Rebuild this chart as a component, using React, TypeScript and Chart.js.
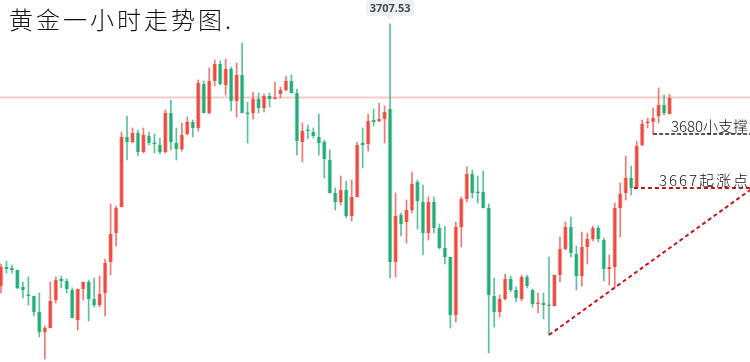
import { useEffect, useRef } from "react";
import { Chart, registerables } from "chart.js";

Chart.register(...registerables);

// 1-hour gold candles (price units)
const opens = [
  3642, 3646.75, 3646.5, 3646, 3641.75, 3639.75, 3639.5, 3635.5, 3630.5, 3631.5,
  3638.5, 3643.75, 3643.25, 3641, 3633.5, 3641.25, 3643, 3638.75, 3637.25, 3640.25,
  3648, 3655.25, 3661.75, 3679.25, 3678, 3680.25, 3675.5, 3679.5, 3677.75, 3677.25,
  3675.5, 3685.25, 3677.75, 3676.25, 3680, 3683, 3681.5, 3692.5, 3685.25, 3693.25,
  3697.5, 3692.25, 3696.25, 3688.25, 3694.75, 3685.25, 3685.25, 3688.75, 3686.5, 3689.5,
  3688.75, 3690, 3691, 3693.25, 3690.25, 3678, 3681, 3680.5, 3679.25, 3678,
  3673.5, 3665.25, 3663, 3666, 3659.5, 3664.25, 3677.75, 3677.5, 3683.5, 3683.25,
  3683.75, 3686.25, 3648, 3659.75, 3658, 3661, 3668, 3663, 3655.25, 3663,
  3656.5, 3651.5, 3649.25, 3634.75, 3656.75, 3663.75, 3670, 3665.5, 3665.5, 3661.5,
  3639.5, 3635.5, 3638.75, 3643.75, 3641, 3638.75, 3644.25, 3641, 3637.5, 3637.75,
  3637.25, 3637, 3644.75, 3651.25, 3656.75, 3650, 3644.5, 3651.75, 3653.75, 3656.5,
  3653.5, 3646.25, 3646.75, 3661.5, 3665.25, 3669, 3666.75, 3677.25, 3682.75, 3683,
  3684.5, 3687.25, 3685,
];
const highs = [
  3647.5, 3648.25, 3647.25, 3646, 3643, 3644.25, 3639.5, 3640.25, 3632, 3643,
  3644.25, 3644.5, 3643.75, 3641.5, 3641.25, 3643, 3643.5, 3644, 3644.5, 3648.75,
  3662.5, 3662, 3680.5, 3684.5, 3681.5, 3681, 3681.5, 3680.5, 3680, 3679,
  3686, 3688.5, 3681.5, 3682.75, 3684.25, 3683.5, 3693.5, 3693.25, 3696.5, 3698.5,
  3698.25, 3698.75, 3696.75, 3697.75, 3702.75, 3688, 3690.5, 3690.25, 3690, 3690.25,
  3693, 3691.75, 3694.5, 3694.75, 3691.25, 3682.75, 3682.25, 3681.5, 3685, 3678.5,
  3676, 3666.5, 3669.5, 3668.25, 3668.5, 3678, 3681.5, 3685, 3686.25, 3687.75,
  3687, 3707.53, 3665.25, 3660.25, 3663.5, 3670.5, 3668.5, 3667.25, 3664.25, 3664.25,
  3657.5, 3657, 3649.25, 3658, 3664.25, 3671.75, 3671, 3669.5, 3670.75, 3662.5,
  3644, 3639.75, 3645, 3644.5, 3641.75, 3644.75, 3644.75, 3641.25, 3640.25, 3640.25,
  3649.25, 3644.75, 3654.25, 3658, 3659.25, 3652, 3655.5, 3655.25, 3657, 3657,
  3654, 3649.75, 3662.75, 3667.75, 3674.5, 3672, 3678.25, 3683.5, 3684, 3686.5,
  3691.5, 3689.75, 3690,
];
const lows = [
  3640.25, 3645.25, 3645.25, 3641.25, 3639, 3637.25, 3634.5, 3629.25, 3623.75, 3631.5,
  3637.75, 3641.5, 3640.25, 3634, 3631, 3638.5, 3633.25, 3636.75, 3636.75, 3634.5,
  3644.75, 3652, 3661.75, 3673.5, 3677.75, 3674.5, 3675.25, 3677.25, 3675.25, 3675,
  3675.25, 3676, 3673.5, 3675.75, 3679.75, 3679.25, 3680.75, 3685.25, 3685, 3692,
  3692.25, 3689.75, 3685.75, 3684.25, 3685.25, 3677.75, 3683.75, 3685.25, 3685.5, 3686.75,
  3688.75, 3689, 3690.75, 3690.25, 3674.75, 3673, 3678.75, 3679, 3674.75, 3669,
  3665.25, 3661, 3662.25, 3659, 3658.25, 3664.25, 3671.5, 3675.75, 3682, 3683,
  3677.75, 3644, 3644.25, 3654.5, 3652.75, 3660.25, 3656.25, 3649.75, 3653.5, 3655.25,
  3651.25, 3647.5, 3631.5, 3633, 3651.75, 3663, 3664, 3662.75, 3661.5, 3625.25,
  3631.75, 3634.25, 3638.5, 3640.5, 3638, 3638.25, 3641.5, 3636.75, 3635.25, 3633.75,
  3629.75, 3637, 3643, 3651, 3649.25, 3641, 3642, 3647.5, 3653.25, 3653,
  3643.25, 3642.25, 3641.5, 3654.25, 3663.5, 3664.75, 3666.5, 3677, 3681.5, 3680,
  3682.75, 3684.75, 3685,
];
const closes = [
  3646.75, 3646.25, 3646, 3641.5, 3641, 3639.5, 3635.5, 3630.5, 3631.5, 3638.25,
  3643.5, 3643.25, 3641.25, 3634, 3641.25, 3643, 3638.75, 3637.25, 3640, 3647.75,
  3655, 3661.5, 3679.25, 3678, 3680.25, 3675.5, 3679.75, 3677.75, 3677.5, 3675.5,
  3685.25, 3678, 3676.25, 3679.75, 3683, 3681.5, 3692.75, 3685.25, 3693.25, 3697.5,
  3692.5, 3696.25, 3688.25, 3694.75, 3685.25, 3685, 3688.75, 3686.5, 3689.5, 3688.75,
  3689, 3691, 3693.25, 3690.25, 3678.25, 3680.75, 3680.75, 3679.5, 3677.75, 3673.75,
  3665.25, 3663, 3666, 3659.5, 3664.25, 3677.25, 3677.25, 3683.25, 3683, 3683.75,
  3685.5, 3648, 3659.5, 3657.5, 3661, 3667.5, 3663.25, 3655.25, 3663, 3656.5,
  3651.5, 3649.25, 3634.75, 3656.75, 3663.75, 3670, 3665.25, 3665.25, 3661.5, 3639.75,
  3635.5, 3638.75, 3643.75, 3641, 3639, 3644.25, 3642, 3637.5, 3637.75, 3637.25,
  3637, 3644.75, 3651.25, 3656.75, 3650.25, 3644.5, 3651.75, 3653.75, 3656.5, 3653.75,
  3646.25, 3646.75, 3661.5, 3665, 3669, 3666.5, 3677, 3682.5, 3683, 3684,
  3687.25, 3685.25, 3689,
];

const titleText = "黄金一小时走势图.";
const peakIndex = 71;
const peakLabel = "3707.53";
const currentPrice = 3689.1;
const supportValue = 3680;
const supportStart = 119;
const supportText = "3680小支撑";
const riseValue = 3666.5;
const riseStart = 115.5;
const riseText = "3667起涨点";
const trendStart = { x: 100, y: 3629.75 };
const trendEnd = { x: 136.7, y: 3666 };

const UP = "#ee4a40";
const UP_LIGHT = "rgba(238,74,64,0.45)";
const DOWN = "#22ad78";
const DOWN_LIGHT = "rgba(34,173,120,0.45)";

const overlayPlugin = {
  id: "overlay",
  beforeDatasetsDraw(chart: any) {
    const { ctx, chartArea, scales } = chart;
    const y = scales.y.getPixelForValue(currentPrice);
    ctx.save();
    ctx.strokeStyle = "rgba(240,160,160,0.55)";
    ctx.lineWidth = 2;
    ctx.beginPath();
    ctx.moveTo(chartArea.left, y);
    ctx.lineTo(chartArea.right, y);
    ctx.stroke();
    ctx.restore();
  },
  afterDatasetsDraw(chart: any) {
    const { ctx, chartArea, scales } = chart;
    const xs = scales.x;
    const ys = scales.y;
    ctx.save();

    // title
    ctx.fillStyle = "#111";
    ctx.font = '300 24px "Noto Sans CJK SC", serif';
    ctx.textBaseline = "alphabetic";
    ctx.textAlign = "left";
    (ctx as any).letterSpacing = "3px";
    ctx.fillText(titleText, 9, 29);
    (ctx as any).letterSpacing = "0px";

    // peak label
    const px = xs.getPixelForValue(peakIndex);
    const bw = 48, bh = 16;
    ctx.fillStyle = "#edeff2";
    ctx.beginPath();
    (ctx as any).roundRect(px - bw / 2, 0, bw, bh, 3);
    ctx.fill();
    ctx.beginPath();
    ctx.moveTo(px - 4, bh);
    ctx.lineTo(px + 4, bh);
    ctx.lineTo(px, bh + 4);
    ctx.closePath();
    ctx.fill();
    ctx.fillStyle = "#454a52";
    ctx.font = 'bold 11px "Open Sans", Arial, sans-serif';
    ctx.textAlign = "center";
    ctx.textBaseline = "middle";
    ctx.fillText(peakLabel, px, 8.5);

    // support line
    const sy = ys.getPixelForValue(supportValue);
    ctx.setLineDash([4, 2]);
    ctx.lineWidth = 1.5;
    ctx.strokeStyle = "#222";
    ctx.beginPath();
    ctx.moveTo(xs.getPixelForValue(supportStart), sy);
    ctx.lineTo(chartArea.right, sy);
    ctx.stroke();

    // rise line
    const ry = ys.getPixelForValue(riseValue);
    ctx.strokeStyle = "#c8141b";
    ctx.lineWidth = 2;
    ctx.setLineDash([4, 3]);
    ctx.beginPath();
    ctx.moveTo(xs.getPixelForValue(riseStart), ry);
    ctx.lineTo(chartArea.right, ry);
    ctx.stroke();

    // trend line
    ctx.beginPath();
    ctx.moveTo(xs.getPixelForValue(trendStart.x), ys.getPixelForValue(trendStart.y));
    ctx.lineTo(xs.getPixelForValue(trendEnd.x), ys.getPixelForValue(trendEnd.y));
    ctx.stroke();
    ctx.setLineDash([]);

    // annotation texts
    ctx.fillStyle = "#111";
    ctx.font = '300 15px "Noto Sans CJK SC", serif';
    ctx.textAlign = "right";
    ctx.textBaseline = "alphabetic";
    ctx.fillText(supportText, 748, sy - 2);
    (ctx as any).letterSpacing = "2px";
    ctx.fillText(riseText, 750, ry - 2);
    (ctx as any).letterSpacing = "0px";

    ctx.restore();
  },
};

export default function App() {
  const ref = useRef<HTMLCanvasElement | null>(null);
  useEffect(() => {
    if (!ref.current) return;
    const idx = opens.map((_, i) => i);
    const up = idx.map((i) => closes[i] >= opens[i]);
    const chart = new Chart(ref.current, {
      type: "bar",
      data: {
        datasets: [
          {
            label: "body",
            data: idx.map((i) => ({ x: i, y: [Math.min(opens[i], closes[i]), Math.max(opens[i], closes[i])] })) as any,
            backgroundColor: up.map((u) => (u ? UP : DOWN)),
            borderColor: up.map((u) => (u ? UP_LIGHT : DOWN_LIGHT)),
            borderWidth: { left: 1, right: 1, top: 0, bottom: 0 } as any,
            borderSkipped: false,
            barThickness: 4,
            minBarLength: 1.5,
            grouped: false,
            order: 1,
          },
          {
            label: "wick",
            data: idx.map((i) => ({ x: i, y: [lows[i], highs[i]] })) as any,
            backgroundColor: up.map((u) => (u ? "rgba(238,74,64,0.75)" : "rgba(34,173,120,0.75)")),
            borderWidth: 0,
            barThickness: 1,
            grouped: false,
            order: 2,
          },
        ],
      },
      options: {
        animation: false,
        responsive: false,
        maintainAspectRatio: false,
        layout: { padding: 0 },
        plugins: { legend: { display: false }, tooltip: { enabled: false } },
        scales: {
          x: { type: "linear", min: -0.18, max: 136.68, display: false, offset: false },
          y: { type: "linear", min: 3623, max: 3713.5, display: false },
        },
      },
      plugins: [overlayPlugin],
    });
    return () => chart.destroy();
  }, []);
  return (
    <div style={{ position: "fixed", left: 0, top: 0, width: 750, height: 362, background: "#fff" }}>
      <canvas ref={ref} width={750} height={362} style={{ width: 750, height: 362, display: "block" }} />
    </div>
  );
}
